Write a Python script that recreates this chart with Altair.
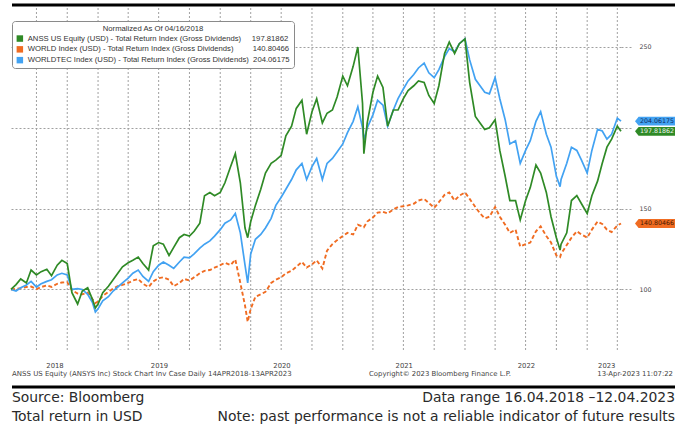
import altair as alt
import pandas as pd

# ---------------- data ----------------
dates = [
    "2018-04-16", "2018-05-01", "2018-05-15", "2018-06-01", "2018-06-15", "2018-07-01", "2018-07-15",
    "2018-08-01", "2018-08-15", "2018-09-01", "2018-09-15", "2018-10-01", "2018-10-15", "2018-11-01",
    "2018-11-15", "2018-12-01", "2018-12-15", "2018-12-24",
    "2019-01-01", "2019-01-15", "2019-02-01", "2019-02-15", "2019-03-01", "2019-03-15", "2019-04-01",
    "2019-04-15", "2019-05-01", "2019-05-15", "2019-06-01", "2019-06-15", "2019-07-01", "2019-07-15",
    "2019-08-01", "2019-08-15", "2019-09-01", "2019-09-15", "2019-10-01", "2019-10-15", "2019-11-01",
    "2019-11-15", "2019-12-01", "2019-12-15",
    "2020-01-01", "2020-01-15", "2020-02-01", "2020-02-15", "2020-03-01", "2020-03-15", "2020-03-23",
    "2020-04-01", "2020-04-15", "2020-05-01", "2020-05-15", "2020-06-01", "2020-06-15", "2020-07-01",
    "2020-07-15", "2020-08-01", "2020-08-15", "2020-09-01", "2020-09-15", "2020-10-01", "2020-10-15",
    "2020-11-01", "2020-11-15", "2020-12-01", "2020-12-15",
    "2021-01-01", "2021-01-15", "2021-02-01", "2021-02-15", "2021-03-01", "2021-03-05", "2021-03-15",
    "2021-04-01", "2021-04-15", "2021-05-01", "2021-05-15", "2021-06-01", "2021-06-15", "2021-07-01",
    "2021-07-15", "2021-08-01", "2021-08-15", "2021-09-01", "2021-09-15", "2021-10-01", "2021-10-15",
    "2021-11-01", "2021-11-15", "2021-12-01", "2021-12-15",
    "2022-01-01", "2022-01-15", "2022-02-01", "2022-02-15", "2022-03-01", "2022-03-15", "2022-04-01",
    "2022-04-15", "2022-05-01", "2022-05-15", "2022-06-01", "2022-06-15", "2022-07-01", "2022-07-15",
    "2022-08-01", "2022-08-15", "2022-09-01", "2022-09-15", "2022-10-01", "2022-10-12", "2022-10-15",
    "2022-11-01", "2022-11-15", "2022-12-01", "2022-12-15",
    "2023-01-01", "2023-01-15", "2023-02-01", "2023-02-15", "2023-03-01", "2023-03-15", "2023-04-01",
    "2023-04-12",
]

anss = [
    100, 103, 106.5, 104, 112, 109, 111, 112.5, 108.5, 115, 118, 116, 98, 91, 99, 101, 94, 88.6,
    91, 98, 102, 106, 110, 114, 116.5, 118, 120, 116, 112, 127, 129, 128, 121, 126, 132, 134, 133, 136,
    141, 158, 160, 158,
    160, 166, 176, 184, 166, 138, 132, 142, 152, 162, 172, 178, 180, 183, 195, 201, 212, 217, 196,
    210, 218, 203, 209, 211, 219,
    232, 226, 238, 250, 215, 184, 203, 222, 232, 225, 201, 211, 211, 218, 223, 226, 229, 228, 220, 215,
    226, 246, 253, 246, 252,
    255, 228, 207, 203, 199, 200, 205, 186, 170, 155, 155, 143, 155, 163, 177, 172, 160, 145, 132,
    124.4, 128, 135, 155, 158, 153,
    147, 158, 167, 178, 188, 193, 201, 197.81862,
]

world = [
    100, 100.3, 100.8, 101.5, 101.8, 100.2, 101.5, 102.5, 101.5, 103.5, 104.3, 104.5, 99.5, 97.5, 97,
    98, 94, 91.6,
    92.5, 96, 98.5, 100.5, 102, 102.8, 104, 105.5, 106.5, 103.5, 101.5, 105, 107, 107.5, 106, 102, 104,
    106.5, 105.5, 107.5, 110, 111.5, 112, 113.5,
    115, 116.5, 115, 118.5, 104, 90, 80, 88, 95.5, 97, 98.5, 104, 106, 107.5, 110, 111.5, 114, 117,
    113.5, 115.5, 118, 113, 124, 128, 130.5,
    133, 135, 134, 140, 139, 138.5, 142, 144.5, 147.5, 148, 147, 149.5, 151, 151.5, 152, 153, 155, 156,
    153.5, 150.5, 154, 158.5, 160, 155, 158,
    160, 156, 151, 147, 144, 145, 151, 145, 140, 135, 137, 126.5, 128, 129, 136, 139, 133, 129, 121,
    120, 122, 127.5, 132, 136, 134,
    132, 137, 142, 140.5, 137, 135.5, 139.5, 140.80466,
]

worldtec = [
    100, 99, 101, 102.8, 105, 101.5, 103.5, 105, 106, 109, 110, 109, 100, 100.5, 100, 97, 92, 86,
    88, 93, 95.5, 99, 101.5, 104, 107, 110, 112, 108, 105, 111, 115, 117, 115, 113, 117, 120, 119.5,
    122, 125.5, 128, 130, 133,
    137, 141, 143, 147, 135, 115, 104, 122, 131, 134, 138, 144, 152, 157, 162, 168, 174, 178, 168,
    176, 181, 168, 178, 181, 185,
    190, 197, 204, 213, 200, 192.5, 200, 208, 217, 214, 201, 211, 218, 224, 229, 233, 237, 240, 234,
    231, 236, 244, 249, 247, 252,
    255, 242, 230, 226, 222, 221, 231, 218, 205, 190, 192, 178, 186, 192, 204, 210, 196, 188, 170,
    163.6, 168, 178, 188, 186, 180,
    172, 186, 199, 198, 193, 196, 206, 204.06175,
]

series_names = [
    "ANSS US Equity (USD) - Total Return Index (Gross Dividends)",
    "WORLD Index (USD) - Total Return Index (Gross Dividends)",
    "WORLDTEC Index (USD) - Total Return Index (Gross Dividends)",
]
series_values = [anss, world, worldtec]

quarter_dates = [
    "2018-07-01", "2018-10-01", "2019-01-01", "2019-04-01", "2019-07-01", "2019-10-01",
    "2020-01-01", "2020-04-01", "2020-07-01", "2020-10-01", "2021-01-01", "2021-04-01",
    "2021-07-01", "2021-10-01", "2022-01-01", "2022-04-01", "2022-07-01", "2022-10-01",
    "2023-01-01", "2023-04-01",
]
# year label anchors (centre of each visible year)
year_label_dates = [(2018, 8, 24), (2019, 7, 2), (2020, 7, 2), (2021, 7, 2), (2022, 7, 2), (2023, 2, 27)]
y_ticks = [100, 150, 200, 250]

footnote_left = "ANSS US Equity (ANSYS Inc) Stock Chart Inv Case  Daily 14APR2018-13APR2023"
footnote_mid = "Copyright\u00a9 2023 Bloomberg Finance L.P."
footnote_right = "13-Apr-2023 11:07:22"
source_text = "Source: Bloomberg"
range_text = "Data range 16.04.2018 \u201312.04.2023"
ret_text = "Total return in USD"
note_text = "Note: past performance is not a reliable indicator of future results"
legend_title = "Normalized As Of 04/16/2018"

# ---------------- style ----------------
colors = ["#2f8a26", "#f06c22", "#42a2f2"]
tag_text_colors = ["#eef4ee", "#4a1800", "#0d2a60"]
legend_pad = [5, 9, 2]  # non-breaking spaces to line up the value column
F = "DejaVu Sans"
LF = "Liberation Sans"
GRID = "#a0a0a0"
DASH = [2, 2]
W, H = 610, 344

NB = "\u00a0"
last_txt = [f"{v[-1]:.5f}" for v in series_values]
labels = [n + NB * p + t for n, p, t in zip(series_names, legend_pad, last_txt)]

rows = []
for lab, vals in zip(labels, series_values):
    for d, v in zip(dates, vals):
        rows.append({"date": d, "series": lab, "value": v})
df = pd.DataFrame(rows)

x_scale = alt.Scale(domain=[alt.DateTime(year=2018, month=4, date=16),
                            alt.DateTime(year=2023, month=4, date=12)])
y_scale = alt.Scale(domain=[61.3, 274.1], nice=False, zero=False)
color_scale = alt.Scale(domain=labels, range=colors)

x_axis = alt.Axis(
    values=[alt.DateTime(year=a, month=b, date=c) for a, b, c in year_label_dates],
    format="%Y", grid=False, ticks=False, domain=False, labelPadding=10,
    labelFont=F, labelFontSize=6.8, labelColor="#444", title=None, labelAngle=0,
    labelOverlap=False, labelFlush=False,
)
y_axis = alt.Axis(
    orient="right", values=y_ticks, labelExpr="datum.value == 200 ? '' : datum.label",
    grid=True, gridDash=DASH, gridColor=GRID, gridWidth=1, gridOpacity=1, ticks=True, tickSize=11,
    tickDash=DASH, tickColor=GRID, tickWidth=1, tickOpacity=1, domain=False, labelPadding=7,
    title=None, labelFont=F, labelFontSize=6.3, labelColor="#444",
)

legend = alt.Legend(
    title=legend_title, orient="none", legendX=1, legendY=13, direction="vertical",
    fillColor="white", strokeColor="#8a8a8a", cornerRadius=3, padding=4,
    titleAnchor="middle", titleFont=LF, titleFontSize=7.7, titleFontWeight="normal",
    titleColor="#333", titlePadding=2, labelFont=LF, labelFontSize=7.7, labelColor="#333",
    symbolType="square", symbolSize=42, symbolOpacity=1, symbolStrokeWidth=0,
    rowPadding=1.8, labelOffset=4, labelLimit=600,
)

tag_df = pd.DataFrame({"series": labels, "value": [v[-1] for v in series_values], "txt": last_txt})
TAG_PATH = "M-1,0 L-0.82,-0.22 L1,-0.22 L1,0.22 L-0.82,0.22 Z"
tags = alt.Chart(tag_df).mark_point(shape=TAG_PATH, size=1600, filled=True, opacity=1,
                                    strokeWidth=0).encode(
    x=alt.value(644),
    y=alt.Y("value:Q", scale=y_scale, axis=y_axis),
    color=alt.Color("series:N", scale=color_scale, legend=legend),
)
tag_texts = []
for i, lab in enumerate(labels):
    tag_texts.append(
        alt.Chart(tag_df).transform_filter(alt.datum.series == lab).mark_text(
            font=F, fontSize=6.3, align="center", baseline="middle", color=tag_text_colors[i]
        ).encode(x=alt.value(646), y=alt.Y("value:Q", scale=y_scale, axis=y_axis), text="txt:N")
    )

grid_rules = alt.Chart(pd.DataFrame({"d": quarter_dates})).mark_rule(
    color=GRID, strokeDash=DASH, strokeWidth=1, opacity=1
).encode(x=alt.X("d:T", scale=x_scale, axis=x_axis))

base = alt.Chart(df)
line_styles = {0: dict(strokeWidth=1.7), 1: dict(strokeWidth=1.9, strokeDash=[4, 2.5]),
               2: dict(strokeWidth=1.7)}
draw_order = [1, 2, 0]
line_layers = []
for i in draw_order:
    line_layers.append(
        base.transform_filter(alt.datum.series == labels[i]).mark_line(**line_styles[i]).encode(
            x=alt.X("date:T", scale=x_scale, axis=x_axis),
            y=alt.Y("value:Q", scale=y_scale, axis=y_axis),
            color=alt.Color("series:N", scale=color_scale),
        )
    )


def label(text, x, y, align, size, color="#333"):
    return alt.Chart(alt.Data(values=[{"t": text}])).mark_text(
        align=align, baseline="middle", font=F, fontSize=size, color=color
    ).encode(text="t:N", x=alt.value(x), y=alt.value(y))


def bar(y):
    return alt.Chart(alt.Data(values=[{}])).mark_rule(color="black", strokeWidth=3).encode(
        x=alt.value(1), x2=alt.value(664), y=alt.value(y))


decor = [
    bar(-3), bar(379),
    label(footnote_left, 1, 366, "left", 7, "#444"),
    label(footnote_mid, 429, 366, "center", 6.9, "#444"),
    label(footnote_right, 662, 366, "right", 6.9, "#444"),
    label(source_text, 1, 390, "left", 13.9, "#2a2a2a"),
    label(range_text, 664, 390, "right", 13.9, "#2a2a2a"),
    label(ret_text, 1, 409, "left", 13.9, "#2a2a2a"),
    label(note_text, 664, 409, "right", 13.9, "#2a2a2a"),
]

chart = alt.layer(tags, *tag_texts, grid_rules, *line_layers, *decor).properties(
    width=W, height=H,
    padding={"left": 11, "top": 8, "right": 683 - 11 - W, "bottom": 428 - 8 - H},
    autosize=alt.AutoSizeParams(type="none"),
    background="white",
).configure_view(stroke=None)

chart.save("out.html", embed_options={"renderer": "svg", "actions": False})
